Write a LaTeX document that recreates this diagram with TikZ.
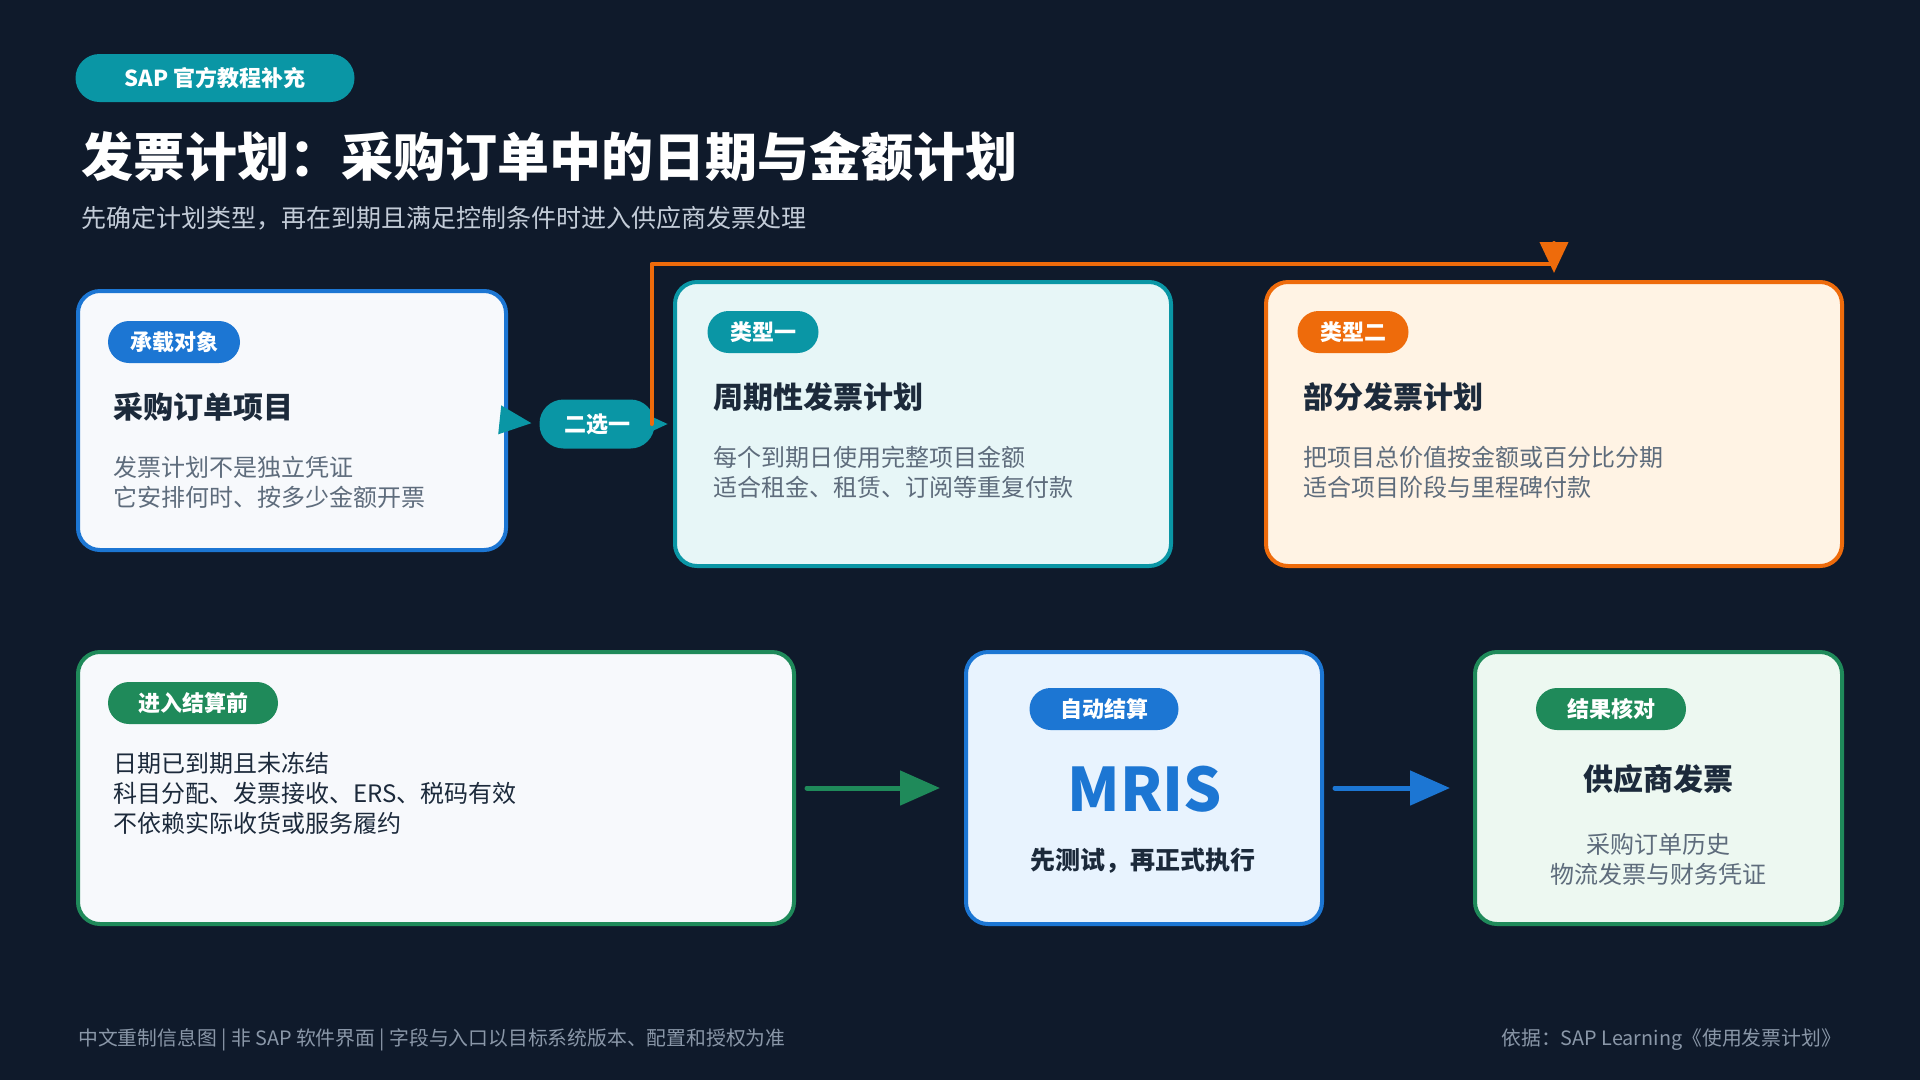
\documentclass[tikz,border=0pt]{standalone}
\usepackage{fontspec}
\setmainfont{Noto Sans CJK SC}
\usepackage{xcolor}
\usepackage{tikz}
\usetikzlibrary{
    arrows.meta,
    calc
}

\definecolor{bgnavy}{HTML}{0F1A2B}
\definecolor{sapteal}{HTML}{0A96A5}
\definecolor{sapblue}{HTML}{1C76D3}
\definecolor{saporange}{HTML}{EE6B0B}
\definecolor{sapgreen}{HTML}{1F8A5A}
\definecolor{inkdark}{HTML}{1C2A3B}
\definecolor{inkgray}{HTML}{5E6C7C}
\definecolor{subgray}{HTML}{C3CCD8}
\definecolor{footgray}{HTML}{8A97A8}
\definecolor{paper}{HTML}{F7F9FC}
\definecolor{tealpale}{HTML}{E7F6F7}
\definecolor{orangepale}{HTML}{FFF3E4}
\definecolor{bluepale}{HTML}{E8F3FE}
\definecolor{greenpale}{HTML}{EDF8F1}

\begin{document}
\begin{tikzpicture}[x=1pt,y=-1pt,line join=round]
    \tikzset{
        card/.style={draw, line width=4pt, rounded corners=22pt, anchor=north west, inner sep=0pt, outer sep=0pt},
        tag/.style={rounded corners=21pt, text=white, font=\fontsize{22}{26}\selectfont\bfseries, inner sep=0pt, outer sep=0pt, minimum height=42pt},
        heading/.style={anchor=west, inner sep=0pt, text=inkdark, font=\fontsize{30}{36}\selectfont\bfseries},
        body/.style={anchor=west, inner sep=0pt, align=left, text=inkgray, font=\fontsize{24}{30}\selectfont},
        foot/.style={inner sep=0pt, text=footgray, font=\fontsize{19.8}{24}\selectfont}
    }
    \fill [bgnavy] (0, 0) rectangle (1920, 1080);
    \useasboundingbox (0, 0) rectangle (1920, 1080);

    \node [tag, fill=sapteal, minimum width=279pt, minimum height=48pt, rounded corners=24pt] (badge) at (215, 78) {SAP 官方教程补充};
    \node [anchor=west, inner sep=0pt, text=white, font=\fontsize{52}{60}\selectfont\bfseries] (title) at (81, 157) {发票计划：采购订单中的日期与金额计划};
    \node [anchor=west, inner sep=0pt, text=subgray, font=\fontsize{25}{30}\selectfont] (subtitle) at (81, 218) {先确定计划类型，再在到期且满足控制条件时进入供应商发票处理};

    % upper row
    \node [card, draw=sapblue, fill=paper, minimum width=428pt, minimum height=259pt] (item) at (78, 291) {};
    \node [tag, fill=sapblue, minimum width=132pt] (itemtag) at (174, 342) {承载对象};
    \node [heading] (itemhead) at (113, 407) {采购订单项目};
    \node [body] (itembody) at (113, 482) {发票计划不是独立凭证\\它安排何时、按多少金额开票};

    \node [card, draw=sapteal, fill=tealpale, minimum width=496pt, minimum height=284pt] (typeone) at (675, 282) {};
    \node [tag, fill=sapteal, minimum width=111pt] (onetag) at (763, 332) {类型一};
    \node [heading] (onehead) at (713, 397) {周期性发票计划};
    \node [body] (onebody) at (713, 472) {每个到期日使用完整项目金额\\适合租金、租赁、订阅等重复付款};

    \node [card, draw=saporange, fill=orangepale, minimum width=576pt, minimum height=284pt] (typetwo) at (1266, 282) {};
    \node [tag, fill=saporange, minimum width=111pt] (twotag) at (1353, 332) {类型二};
    \node [heading] (twohead) at (1303, 397) {部分发票计划};
    \node [body] (twobody) at (1303, 472) {把项目总价值按金额或百分比分期\\适合项目阶段与里程碑付款};

    \node [tag, fill=sapteal, minimum width=115pt, minimum height=49pt, rounded corners=24pt] (pick) at (597, 424) {二选一};

    % lower row
    \node [card, draw=sapgreen, fill=paper, minimum width=716pt, minimum height=272pt] (settle) at (78, 652) {};
    \node [tag, fill=sapgreen, minimum width=170pt] (settletag) at (193, 703) {进入结算前};
    \node [body, text=inkdark] (settlebody) at (113, 793) {日期已到期且未冻结\\科目分配、发票接收、ERS、税码有效\\不依赖实际收货或服务履约};

    \node [card, draw=sapblue, fill=bluepale, minimum width=356pt, minimum height=272pt] (mris) at (966, 652) {};
    \node [tag, fill=sapblue, minimum width=149pt] (mristag) at (1104, 709) {自动结算};
    \node [inner sep=0pt, text=sapblue, font=\fontsize{60}{66}\selectfont\bfseries] (mrisname) at (1145, 789) {MRIS};
    \node [inner sep=0pt, text=inkdark, font=\fontsize{25}{30}\selectfont\bfseries] (mrisnote) at (1143, 861) {先测试，再正式执行};

    \node [card, draw=sapgreen, fill=greenpale, minimum width=367pt, minimum height=272pt] (result) at (1475, 652) {};
    \node [tag, fill=sapgreen, minimum width=150pt] (resulttag) at (1611, 709) {结果核对};
    \node [inner sep=0pt, text=inkdark, font=\fontsize{30}{36}\selectfont\bfseries] (resulthead) at (1658, 779) {供应商发票};
    \node [inner sep=0pt, align=center, text=inkgray, font=\fontsize{24}{30}\selectfont] (resultbody) at (1658, 859) {采购订单历史\\物流发票与财务凭证};

    % connectors
    \draw [sapteal, line width=4pt, -{Triangle[length=32pt,width=28pt]}, shorten >=8pt] (item.east) -- (pick.west);
    \draw [sapteal, line width=4pt, -{Triangle[length=18pt,width=15pt]}, shorten >=7pt] (pick.east) -- (typeone.west);
    \draw [saporange, line width=4pt, line cap=round, -{Triangle[length=31pt,width=28pt]}] ([xshift=-3pt]pick.east) |- ($(typetwo.north)+(0,-18)$) -- ($(typetwo.north)+(0,-9)$);
    \draw [sapgreen, line width=5pt, line cap=round, -{Triangle[length=40pt,width=34pt]}] ([xshift=13pt]settle.east) -- ([xshift=-26pt]mris.west);
    \draw [sapblue, line width=5pt, line cap=round, -{Triangle[length=40pt,width=34pt]}] ([xshift=13pt]mris.east) -- ([xshift=-25pt]result.west);

    \node [foot, anchor=west] (footleft) at (78, 1040) {中文重制信息图 | 非 SAP 软件界面 | 字段与入口以目标系统版本、配置和授权为准};
    \node [foot, anchor=east] (footright) at (1841, 1040) {依据：SAP Learning《使用发票计划》};
\end{tikzpicture}
\end{document}
